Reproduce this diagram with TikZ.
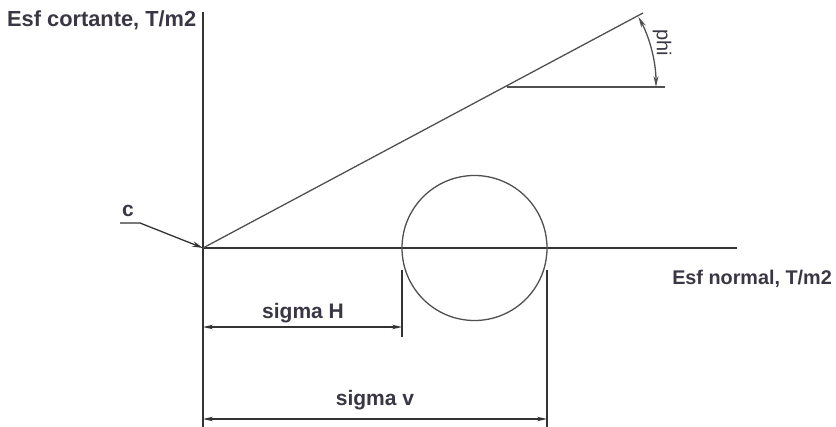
\documentclass[tikz,border=0pt]{standalone}
\usepackage{fontspec}
\setmainfont{Liberation Sans}
\usetikzlibrary{arrows.meta}
\definecolor{ink}{HTML}{3A3644}
\definecolor{linecol}{HTML}{333333}
\definecolor{thin}{HTML}{505050}
\begin{document}
\begin{tikzpicture}[x=1pt,y=-1pt,
  lbl/.style={text=ink,font=\fontsize{21}{24}\selectfont\bfseries,inner sep=0pt},
  axis/.style={draw=linecol,line width=1.7pt},
  ext/.style={draw=linecol,line width=1.5pt},
  envline/.style={draw=thin,line width=1.3pt},
  dim/.style={draw=linecol,line width=1.4pt,{Stealth[length=10pt,width=4.5pt]}-{Stealth[length=10pt,width=4.5pt]}},
]
\useasboundingbox (0,0) rectangle (836,427);
% coordinates
\coordinate (O) at (203,248);
\coordinate (Ytop) at (203,12);
\coordinate (Ybot) at (203,427);
\coordinate (Xend) at (737,248);
\coordinate (Ltop) at (643,13);
\coordinate (Hs) at (507,87);
\coordinate (He) at (665,87);
\coordinate (C) at (474.5,248);
\coordinate (Lx) at (402,270);
\coordinate (Lxb) at (402,337);
\coordinate (Rx) at (547,270);
\coordinate (Rxb) at (547,427);
\coordinate (SHa) at (203,327);
\coordinate (SHb) at (402,327);
\coordinate (SVa) at (203,419);
\coordinate (SVb) at (547,419);
\coordinate (Cs) at (120,223);
\coordinate (Cm) at (140,223);
% axes
\draw[axis] (Ytop) -- (Ybot);
\draw[axis] (O) -- (Xend);
% envelope
\draw[envline] (O) -- (Ltop);
\draw[envline] (Hs) -- (He);
% phi arc
\draw[draw=thin,line width=1.3pt,{Stealth[length=11pt,width=5pt]}-{Stealth[length=11pt,width=5pt]}]
  (656,87) arc[start angle=0,end angle=-28.1,radius=149];
% circle
\node[draw=thin,line width=1.3pt,circle,minimum size=145pt,inner sep=0pt] (circ) at (C) {};
% extension lines
\draw[ext] (Lx) -- (Lxb);
\draw[ext] (Rx) -- (Rxb);
% dimension arrows
\draw[dim] (SHa) -- (SHb);
\draw[dim] (SVa) -- (SVb);
% c arrow
\draw[draw=linecol,line width=1.3pt,-{Stealth[length=11pt,width=5.5pt]}] (Cs) -- (Cm) -- (O);
% labels
\node[lbl,font=\fontsize{21.8}{24}\selectfont\bfseries,anchor=base west] (ylab) at (7,27) {Esf cortante, T/m2};
\node[lbl,font=\fontsize{19.8}{24}\selectfont\bfseries,anchor=base east] (xlab) at (832,285) {Esf normal, T/m2};
\node[lbl,anchor=base] (sh) at (303,319) {sigma H};
\node[lbl,anchor=base] (sv) at (375,406) {sigma v};
\node[lbl,anchor=base] (clab) at (128,217) {c};
\node[text=ink,font=\fontsize{20}{24}\selectfont,inner sep=0pt,rotate=-90] (phi) at (662,43) {phi};
\end{tikzpicture}
\end{document}
